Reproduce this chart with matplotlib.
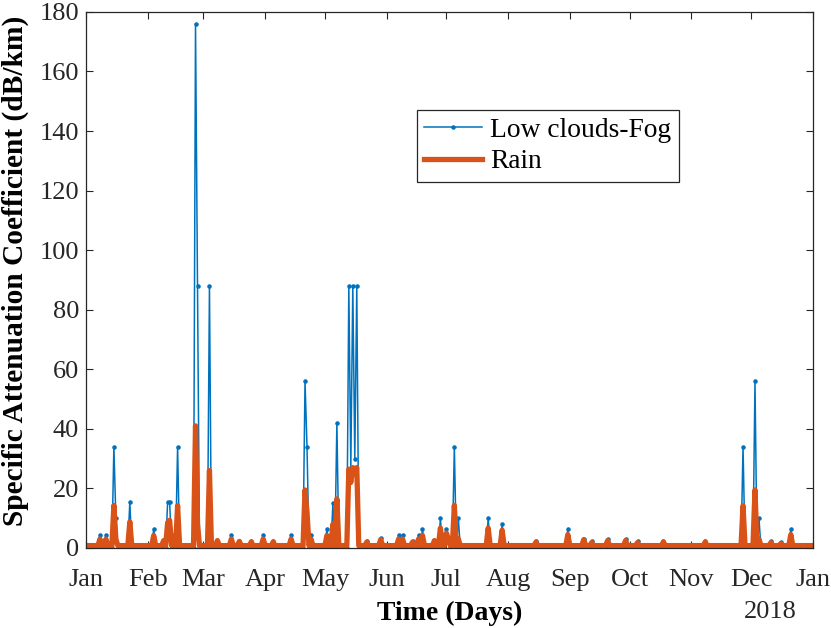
import numpy as np
import matplotlib
matplotlib.use('Agg')
import matplotlib.pyplot as plt

plt.rcParams['font.family'] = ['Liberation Serif', 'DejaVu Serif']

# day of year (0 = 1 Jan 2018) of each event, with attenuation
event_days = [7, 10, 14, 15, 22, 34, 39, 41, 42, 44, 46, 55, 56, 62, 66, 73, 77,
              83, 89, 94, 103, 110, 111, 113, 121, 124, 126, 132, 133, 134, 135,
              136, 141, 148, 157, 159, 164, 167, 169, 175, 178, 181, 182, 185,
              187, 202, 209, 226, 242, 250, 254, 262, 271, 277, 290, 311, 330,
              336, 338, 344, 349, 354]
fog_values = [4.4, 4.4, 34, 10, 15.5, 6.4, 2.5, 15.5, 15.5, 4.4, 34, 176, 88, 88,
              2.5, 4.4, 2.5, 2.5, 4.4, 2.5, 4.4, 56, 34, 4.4, 6.4, 15, 42, 88,
              27, 88, 30, 88, 2.5, 3.5, 4.4, 4.4, 2.5, 4.4, 6.4, 2.5, 10, 6.4,
              2.5, 34, 10, 10, 8, 2.5, 6.4, 3, 2.5, 3, 3, 2.5, 2.5, 2.5, 34, 56,
              10, 2.5, 2, 6.4]
rain_values = [3.0, 3.0, 14.3, 3.0, 8.8, 4.2, 2.5, 8.5, 9.3, 3.5, 14.2, 41, 8, 26,
               2.5, 3.0, 2.2, 2.0, 3.0, 2.0, 3.0, 19.5, 12, 3.0, 4.2, 8, 16.5,
               26.5, 22, 27, 25, 27, 2.0, 2.8, 3.0, 3.0, 2.0, 3.0, 4.2, 2.5, 6.7,
               5.0, 3.0, 14.3, 3.0, 6.7, 6.0, 2.0, 4.5, 2.8, 1.8, 2.5, 2.5, 1.8,
               2.0, 2.0, 14.2, 19.5, 3.0, 1.8, 1.5, 4.5]
fog_base = 0.0
rain_base = 0.8

month_starts = [0, 31, 59, 90, 120, 151, 181, 212, 243, 273, 304, 334, 365]
month_labels = ['Jan', 'Feb', 'Mar', 'Apr', 'May', 'Jun', 'Jul', 'Aug', 'Sep',
                'Oct', 'Nov', 'Dec', 'Jan']

days = np.arange(365)
fog = np.full(365, fog_base)
rain = np.full(365, rain_base)
fog[event_days] = fog_values
rain[event_days] = rain_values

fig = plt.figure(figsize=(8.31, 6.28), dpi=100)
ax = fig.add_axes([0.1035, 0.1274, 0.8745, 0.8536])

ax.plot(days, fog, color='#0072BD', lw=1.1, marker='.', ms=4.5, label='Low clouds-Fog')
ax.plot(days, rain, color='#D95319', lw=3.8, label='Rain')

ax.set_xlim(0, 365)
ax.set_ylim(0, 180)
ax.set_yticks(np.arange(0, 181, 20))
ax.set_xticks(month_starts)
ax.set_xticklabels(month_labels)
ax.tick_params(direction='in', length=5, width=0.8, top=True, right=True,
               labelsize=19, colors='#262626')
ax.tick_params(axis='x', pad=15)
ax.tick_params(axis='y', pad=5)
for s in ax.spines.values():
    s.set_color('#262626')
    s.set_linewidth(0.9)

ax.set_xlabel('Time (Days)', fontsize=20, fontweight='bold', labelpad=7)
ax.set_ylabel('Specific Attenuation Coefficient (dB/km)', fontsize=21.2,
              fontweight='bold')
ax.yaxis.set_label_coords(-0.078, 0.517)
ax.text(0.942, -0.12, '2018', transform=ax.transAxes, ha='center', va='center',
        fontsize=19, color='#262626')

leg = ax.legend(loc='upper left', bbox_to_anchor=(0.455, 0.817), borderaxespad=0,
                fontsize=19.8, fancybox=False, edgecolor='#262626', framealpha=1,
                handlelength=2.1, handletextpad=0.3, borderpad=0.28, labelspacing=0.22)
leg.get_frame().set_linewidth(0.9)

fig.savefig('out.png', dpi=100)
